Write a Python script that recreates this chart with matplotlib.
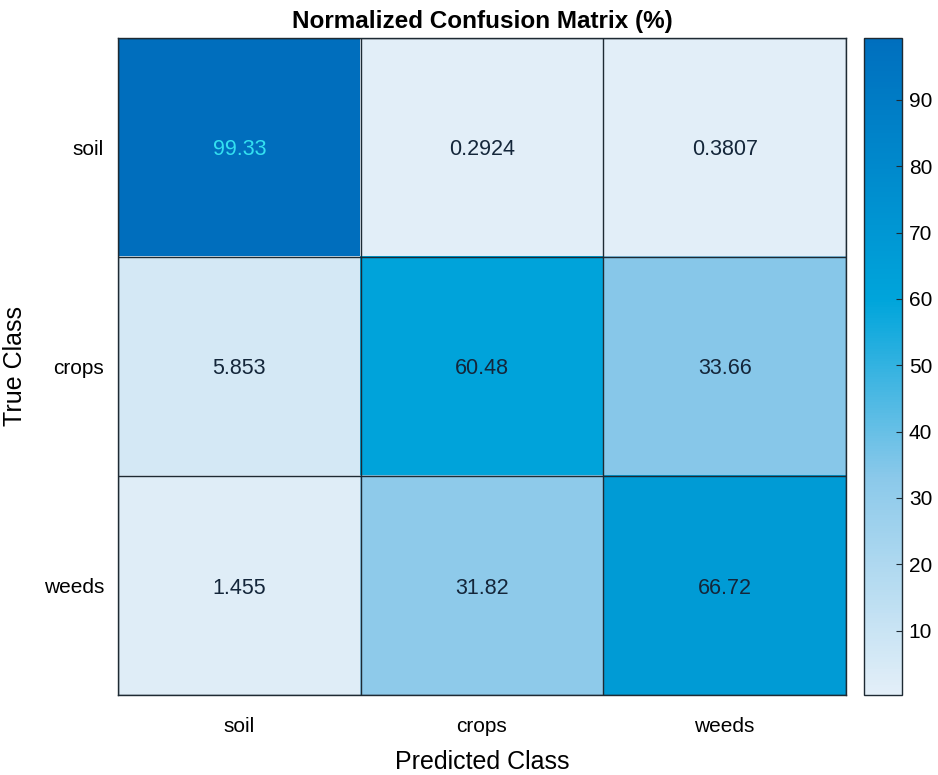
import numpy as np
import matplotlib
matplotlib.use('Agg')
import matplotlib.pyplot as plt
from matplotlib.colors import LinearSegmentedColormap

classes = ['soil', 'crops', 'weeds']
conf_pct = np.array([
    [99.33, 0.2924, 0.3807],
    [5.853, 60.48, 33.66],
    [1.455, 31.82, 66.72],
])
cell_text = [['99.33', '0.2924', '0.3807'],
             ['5.853', '60.48', '33.66'],
             ['1.455', '31.82', '66.72']]

plt.rcParams.update({'font.family': ['Liberation Sans', 'DejaVu Sans']})

cmap = LinearSegmentedColormap.from_list('mblue', [
    (0.00, (0.890, 0.937, 0.973)),
    (0.33, (0.545, 0.788, 0.918)),
    (0.60, (0.000, 0.647, 0.859)),
    (1.00, (0.000, 0.435, 0.745)),
])

fig = plt.figure(figsize=(9.38, 7.75), dpi=100)
ax = fig.add_axes([0.1258, 0.1032, 0.7761, 0.8478])
cax = fig.add_axes([0.921, 0.1032, 0.0405, 0.8478])

vmin, vmax = conf_pct.min(), conf_pct.max()
im = ax.imshow(conf_pct, cmap=cmap, vmin=vmin, vmax=vmax, aspect='auto')

for i in range(3):
    for j in range(3):
        col = '#33e0f0' if conf_pct[i, j] > 90 else '#14263a'
        ax.text(j, i, cell_text[i][j], ha='center', va='center_baseline',
                fontsize=15.5, color=col)

ax.set_xticks(range(3))
ax.set_yticks(range(3))
ax.set_xticklabels(classes, fontsize=15)
ax.set_yticklabels(classes, fontsize=15)
ax.tick_params(axis='x', length=0, pad=16)
ax.tick_params(axis='y', length=0, pad=10)
ax.set_xticks(np.arange(-0.5, 3, 1), minor=True)
ax.set_yticks(np.arange(-0.5, 3, 1), minor=True)
ax.grid(which='minor', color='#1e2a33', linewidth=1)
ax.tick_params(which='minor', length=0)
for s in ax.spines.values():
    s.set_color('#1e2a33')
    s.set_linewidth(1)

ax.set_xlabel('Predicted Class', fontsize=18)
ax.set_ylabel('True Class', fontsize=18)
ax.xaxis.set_label_coords(0.5, -0.083)
ax.yaxis.set_label_coords(-0.125, 0.5)
ax.set_title('Normalized Confusion Matrix (%)', fontsize=17.5, fontweight='bold', pad=7)

cb = fig.colorbar(im, cax=cax)
cb.set_ticks(range(10, 100, 10))
cb.ax.tick_params(labelsize=15, length=4, direction='in', color='#1e2a33', pad=5)
cb.outline.set_edgecolor('#1e2a33')
cb.outline.set_linewidth(1)

fig.savefig('out.png', dpi=100)
